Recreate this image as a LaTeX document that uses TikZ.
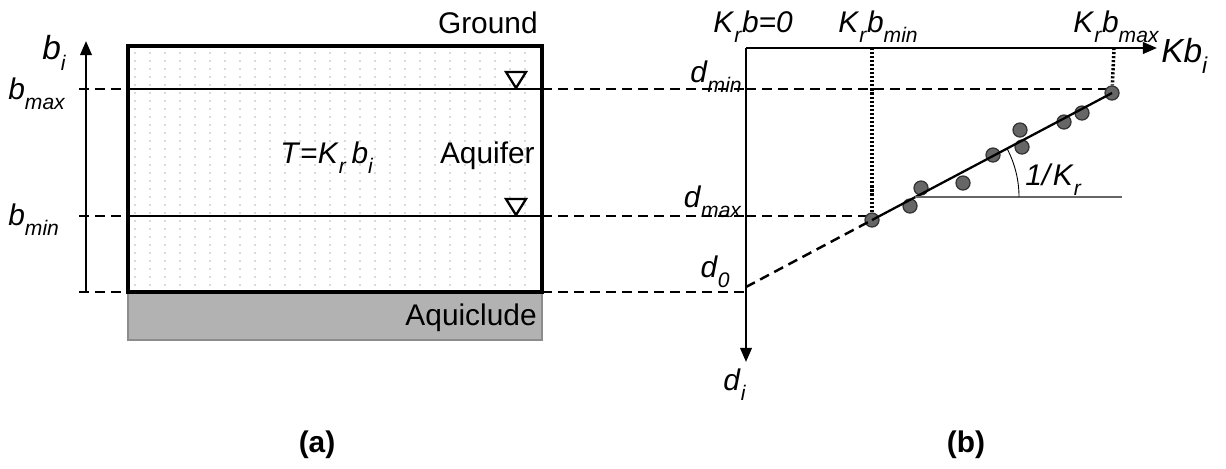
\documentclass[tikz,border=0pt]{standalone}
\usepackage{fontspec}
\setmainfont{Liberation Sans}
\usetikzlibrary{arrows.meta, calc}

% italic symbol with italic subscript
\newcommand{\sub}[2]{\textit{#1}\raisebox{-0.35em}{\fontsize{12}{12}\selectfont\textit{#2}}}

\begin{document}
\begin{tikzpicture}[x=0.02cm, y=-0.02cm, >={Triangle[length=8pt, width=6.5pt]}, font=\fontsize{17}{20}\selectfont]

% --- Styles ---
\tikzset{
    boxLine/.style={line width=2.2pt},
    tableLine/.style={line width=1.5pt},
    levelDash/.style={line width=1.4pt, dash pattern=on 5.7pt off 3.4pt},
    dropDot/.style={line width=2pt, dash pattern=on 1.2pt off 1.1pt},
    axisLine/.style={->, line width=1.4pt},
    fitLine/.style={line width=1.3pt},
    obsPoint/.style={circle, fill=black!60, draw=black!80, line width=0.7pt, inner sep=0pt, minimum size=8pt},
    wtMark/.style={draw=black, fill=white, line width=1.3pt},
    aquiclude/.style={fill=black!30, draw=black!45, line width=1.2pt},
    lbl/.style={inner sep=0pt},
    bigLbl/.style={inner sep=0pt, font=\fontsize{19}{22}\selectfont},
}

\useasboundingbox (0,0) rectangle (1226,468);

% --- (a) aquifer section ---
\filldraw[aquiclude] (128,292) rectangle (542,340);
\foreach \x in {135,150,...,535}
    \foreach \y in {53,61,...,288}
        \fill[black!30] (\x,\y) circle (0.45pt);
\draw[boxLine] (128,46) rectangle (542,292);

\coordinate (boxMaxL) at (128,89);
\coordinate (boxMaxR) at (542,89);
\coordinate (boxMinL) at (128,216);
\coordinate (boxMinR) at (542,216);
\coordinate (boxBotL) at (128,292);
\coordinate (boxBotR) at (542,292);
\coordinate (tickMax) at (79,89);
\coordinate (tickMin) at (79,216);
\coordinate (tickBot) at (79,292);

\draw[tableLine] (boxMaxL) -- (boxMaxR);
\draw[tableLine] (boxMinL) -- (boxMinR);
\draw[wtMark] (506,72) -- (526,72) -- (516,88) -- cycle;
\draw[wtMark] (506,199) -- (526,199) -- (516,215) -- cycle;

% b axis
\coordinate (bStart) at (86,292);
\coordinate (bEnd) at (86,41);
\draw[axisLine] (bStart) -- (bEnd);
\draw[levelDash] (tickMax) -- (boxMaxL);
\draw[levelDash] (tickMin) -- (boxMinL);
\draw[levelDash] (tickBot) -- (boxBotL);

\node[lbl, anchor=base east] (ground) at (538,33) {Ground};
\node[lbl, anchor=base east] (aquifer) at (535,163) {Aquifer};
\node[lbl, anchor=base east] (aquicludeLbl) at (537,325) {Aquiclude};
\node[lbl, anchor=base west] (trans) at (280,163) {\textit{T}=\sub{K}{r}\,\sub{b}{i}};
\node[bigLbl, anchor=base west] (bi) at (42,59) {\sub{b}{i}};
\node[lbl, anchor=base west] (bmax) at (8,99) {\sub{b}{max}};
\node[lbl, anchor=base west] (bmin) at (8,225) {\sub{b}{min}};
\node[lbl, font=\fontsize{17}{20}\selectfont\bfseries] (capA) at (317,445) {(a)};

% --- (b) transmissivity vs depth ---
\coordinate (origin) at (746,48);
\coordinate (kEnd) at (1157,48);
\coordinate (dEnd) at (746,362);
\coordinate (dMin) at (746,89);
\coordinate (dMax) at (746,216);
\coordinate (dBot) at (746,292);
\coordinate (dZero) at (746,287);
\coordinate (kMin) at (872,48);
\coordinate (kMax) at (1114,48);

\draw[levelDash] (boxMaxR) -- (dMin);
\draw[levelDash] (boxMinR) -- (dMax);
\draw[levelDash] (boxBotR) -- (dBot);
\draw[levelDash] (dMin) -- (1114,89);
\draw[levelDash] (dMax) -- (872,216);

\node[obsPoint] (p1) at (872,220) {};
\node[obsPoint] (p2) at (910,206) {};
\node[obsPoint] (p3) at (921,188) {};
\node[obsPoint] (p4) at (963,183) {};
\node[obsPoint] (p5) at (993,155) {};
\node[obsPoint] (p6) at (1020,130) {};
\node[obsPoint] (p7) at (1022,147) {};
\node[obsPoint] (p8) at (1064,122) {};
\node[obsPoint] (p9) at (1082,113) {};
\node[obsPoint] (p10) at (1112,93) {};

\draw[dropDot] (kMin) -- (p1);
\draw[dropDot] (kMax) -- (p10);
\draw[fitLine] (p1.center) -- (p10.center);
\draw[levelDash] (dZero) -- (p1.center);

% slope angle
\coordinate (ang) at (915,197);
\draw[black!60, line width=0.8pt] (ang) -- (1122,197);
\draw[line width=0.5pt] ($(ang)+(104,0)$) arc[start angle=0, end angle=28, radius=2.08cm];

\draw[axisLine] (origin) -- (kEnd);
\draw[axisLine] (origin) -- (dEnd);

\node[lbl, anchor=base west] (kZero) at (713,32) {\sub{K}{r}\textit{b=0}};
\node[lbl, anchor=base west] (kMinLbl) at (838,32) {\sub{K}{r}\sub{b}{min}};
\node[lbl, anchor=base west] (kMaxLbl) at (1073,32) {\sub{K}{r}\sub{b}{max}};
\node[bigLbl, anchor=base west] (kbi) at (1161,62) {\textit{Kb}\raisebox{-0.35em}{\fontsize{13}{13}\selectfont\textit{i}}};
\node[lbl, anchor=base east] (dminLbl) at (742,82) {\sub{d}{min}};
\node[lbl, anchor=base east] (dmaxLbl) at (742,207) {\sub{d}{max}};
\node[lbl, anchor=base east] (d0Lbl) at (730,277) {\sub{d}{0}};
\node[lbl, anchor=base west] (diLbl) at (723,390) {\sub{d}{i}};
\node[lbl, anchor=base west] (slopeLbl) at (1025,185) {\textit{1/}\sub{K}{r}};
\node[lbl, font=\fontsize{17}{20}\selectfont\bfseries] (capB) at (966,445) {(b)};

\end{tikzpicture}
\end{document}
